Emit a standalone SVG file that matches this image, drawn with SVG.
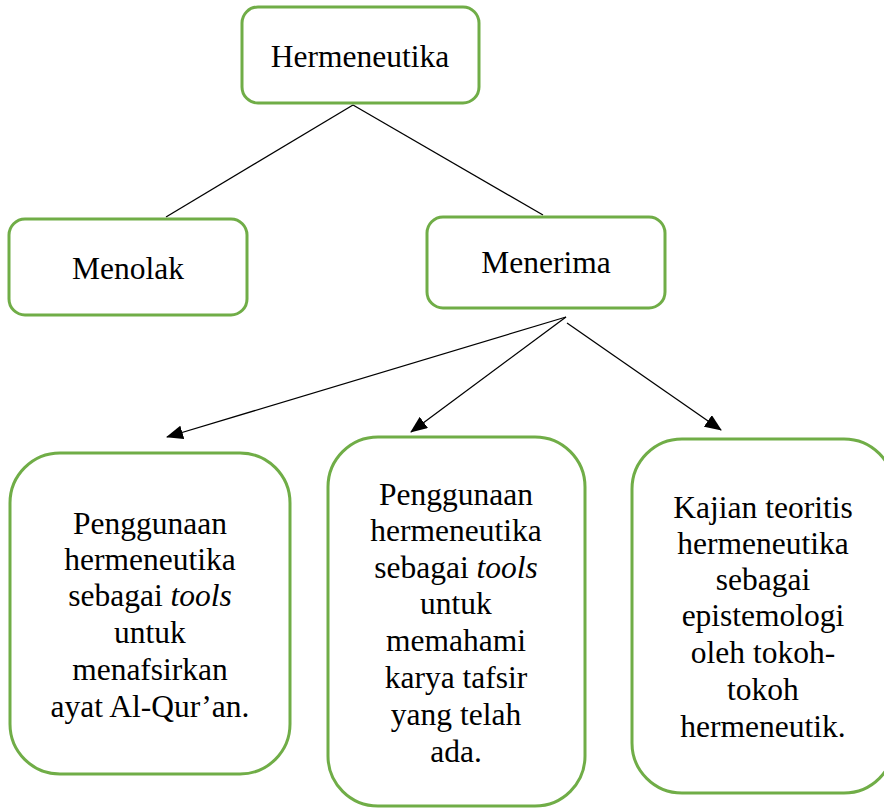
<svg xmlns="http://www.w3.org/2000/svg" width="884" height="808" viewBox="0 0 884 808">
<style>
.box{fill:#fff;stroke:#70AD47;stroke-width:3}
.c{stroke:#000;stroke-width:1.3;fill:none}
</style>
<defs>
<marker id="ah" markerUnits="userSpaceOnUse" markerWidth="18" markerHeight="14" refX="16" refY="7" orient="auto">
<path d="M0,0 L17,7 L0,14 Z" fill="#000"/>
</marker>
</defs>
<rect width="884" height="808" fill="#fff"/>
<g id="connectors">
<line class="c" x1="353" y1="105" x2="166" y2="217"/>
<line class="c" x1="353" y1="105" x2="543" y2="215"/>
<line class="c" x1="566" y1="317" x2="167" y2="437" marker-end="url(#ah)"/>
<line class="c" x1="566" y1="317" x2="411" y2="432" marker-end="url(#ah)"/>
<line class="c" x1="567" y1="323" x2="721" y2="430" marker-end="url(#ah)"/>
</g>
<g font-family="Liberation Serif, serif" font-size="31.5" fill="#000" text-anchor="middle">
<g id="hermeneutika">
<rect class="box" x="242" y="7" width="237" height="96" rx="16"/>
<text x="360" y="67">Hermeneutika</text>
</g>
<g id="menolak">
<rect class="box" x="9" y="219" width="238" height="96" rx="16"/>
<text x="128" y="279">Menolak</text>
</g>
<g id="menerima">
<rect class="box" x="427" y="217" width="238" height="91" rx="16"/>
<text x="546" y="273">Menerima</text>
</g>
<g id="box1">
<rect class="box" x="10" y="453" width="280" height="321" rx="50"/>
<text x="150" y="534">Penggunaan</text>
<text x="150" y="570">hermeneutika</text>
<text x="150" y="606">sebagai <tspan font-style="italic">tools</tspan></text>
<text x="150" y="643">untuk</text>
<text x="150" y="680">menafsirkan</text>
<text x="150" y="717">ayat Al-Qur’an.</text>
</g>
<g id="box2">
<rect class="box" x="328" y="437" width="257" height="369" rx="50"/>
<text x="456" y="505">Penggunaan</text>
<text x="456" y="541">hermeneutika</text>
<text x="456" y="578">sebagai <tspan font-style="italic">tools</tspan></text>
<text x="456" y="614">untuk</text>
<text x="456" y="651">memahami</text>
<text x="456" y="688">karya tafsir</text>
<text x="456" y="725">yang telah</text>
<text x="456" y="762">ada.</text>
</g>
<g id="box3">
<rect class="box" x="632" y="439" width="262" height="354" rx="50"/>
<text x="763" y="518">Kajian teoritis</text>
<text x="763" y="554">hermeneutika</text>
<text x="763" y="590">sebagai</text>
<text x="763" y="626">epistemologi</text>
<text x="763" y="663">oleh tokoh-</text>
<text x="763" y="700">tokoh</text>
<text x="763" y="737">hermeneutik.</text>
</g>
</g>
</svg>
